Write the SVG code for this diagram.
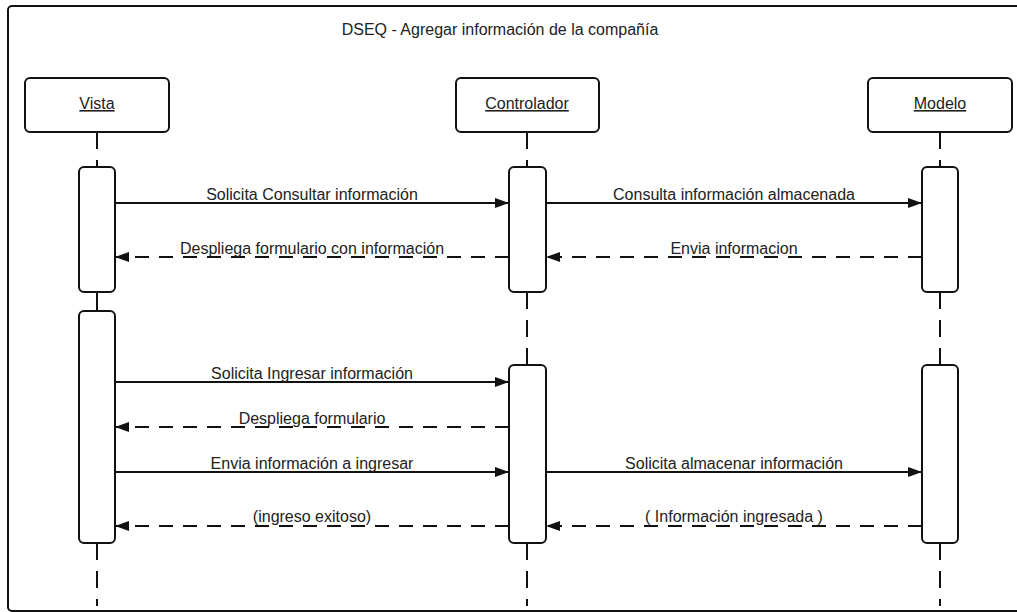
<svg xmlns="http://www.w3.org/2000/svg" width="1017" height="612" viewBox="0 0 1017 612">
  <style>
    .frame { fill: #fff; stroke: #111; stroke-width: 2; }
    .box { fill: #fff; stroke: #111; stroke-width: 2; }
    .life { stroke: #111; stroke-width: 2; stroke-dasharray: 17 11; fill: none; }
    .life-solid { stroke: #111; stroke-width: 2; fill: none; }
    .msg { stroke: #111; stroke-width: 2; fill: none; }
    .ret { stroke: #111; stroke-width: 2; fill: none; stroke-dasharray: 14 10; }
    .lbl { font-family: "Liberation Sans", Arial, sans-serif; font-size: 16px; fill: #222; text-anchor: middle; }
    .name { font-family: "Liberation Sans", Arial, sans-serif; font-size: 16px; fill: #222; text-anchor: middle; text-decoration: underline; }
  </style>
  <defs>
    <marker id="arrow" markerWidth="14" markerHeight="10" refX="14" refY="5" orient="auto" markerUnits="userSpaceOnUse">
      <path d="M0,0 L14,5 L0,10 Z" fill="#111"/>
    </marker>
  </defs>

  <!-- sequence frame (right edge runs past the canvas) -->
  <rect class="frame" x="8" y="6" width="1030" height="605" rx="4"/>
  <text class="lbl" x="500" y="35">DSEQ - Agregar información de la compañía</text>

  <!-- lifelines -->
  <g id="lifelines">
    <line class="life" x1="97" y1="132" x2="97" y2="167"/>
    <line class="life-solid" x1="97" y1="292" x2="97" y2="311"/>
    <line class="life" x1="97" y1="543" x2="97" y2="606"/>

    <line class="life" x1="527" y1="132" x2="527" y2="167"/>
    <line class="life" x1="527" y1="292" x2="527" y2="365"/>
    <line class="life" x1="527" y1="543" x2="527" y2="606"/>

    <line class="life" x1="940" y1="132" x2="940" y2="167"/>
    <line class="life" x1="940" y1="292" x2="940" y2="365"/>
    <line class="life" x1="940" y1="543" x2="940" y2="606"/>
  </g>

  <!-- participants -->
  <g id="vista">
    <rect class="box" x="25" y="78" width="144" height="54" rx="5"/>
    <text class="name" x="97" y="109">Vista</text>
    <rect class="box" x="79" y="167" width="36" height="125" rx="5"/>
    <rect class="box" x="79" y="311" width="36" height="232" rx="5"/>
  </g>
  <g id="controlador">
    <rect class="box" x="456" y="78" width="143" height="54" rx="5"/>
    <text class="name" x="527" y="109">Controlador</text>
    <rect class="box" x="509" y="167" width="37" height="125" rx="5"/>
    <rect class="box" x="509" y="365" width="37" height="178" rx="5"/>
  </g>
  <g id="modelo">
    <rect class="box" x="868" y="78" width="144" height="54" rx="5"/>
    <text class="name" x="940" y="109">Modelo</text>
    <rect class="box" x="922" y="167" width="36" height="125" rx="5"/>
    <rect class="box" x="922" y="365" width="36" height="178" rx="5"/>
  </g>

  <!-- messages -->
  <g id="connectors">
    <line class="msg" x1="115" y1="203" x2="509" y2="203" marker-end="url(#arrow)"/>
    <line class="ret" x1="509" y1="257" x2="115" y2="257" marker-end="url(#arrow)"/>
    <line class="msg" x1="546" y1="203" x2="922" y2="203" marker-end="url(#arrow)"/>
    <line class="ret" x1="922" y1="257" x2="546" y2="257" marker-end="url(#arrow)"/>

    <line class="msg" x1="115" y1="382" x2="509" y2="382" marker-end="url(#arrow)"/>
    <line class="ret" x1="509" y1="427" x2="115" y2="427" marker-end="url(#arrow)"/>
    <line class="msg" x1="115" y1="472" x2="509" y2="472" marker-end="url(#arrow)"/>
    <line class="ret" x1="509" y1="526" x2="115" y2="526" marker-end="url(#arrow)"/>
    <line class="msg" x1="546" y1="472" x2="922" y2="472" marker-end="url(#arrow)"/>
    <line class="ret" x1="922" y1="526" x2="546" y2="526" marker-end="url(#arrow)"/>
  </g>

  <g id="labels">
    <text class="lbl" x="312" y="200">Solicita Consultar información</text>
    <text class="lbl" x="312" y="254">Despliega formulario con información</text>
    <text class="lbl" x="734" y="200">Consulta información almacenada</text>
    <text class="lbl" x="734" y="254">Envia informacion</text>
    <text class="lbl" x="312" y="379">Solicita Ingresar información</text>
    <text class="lbl" x="312" y="424">Despliega formulario</text>
    <text class="lbl" x="312" y="469">Envia información a ingresar</text>
    <text class="lbl" x="312" y="522">(ingreso exitoso)</text>
    <text class="lbl" x="734" y="469">Solicita almacenar información</text>
    <text class="lbl" x="734" y="522">( Información ingresada )</text>
  </g>
</svg>
